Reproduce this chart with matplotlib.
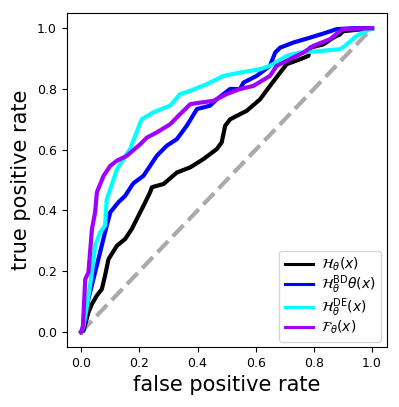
import matplotlib
matplotlib.use("Agg")
import matplotlib.pyplot as plt

# ROC curve points
h_fpr = [0.0, 0.008, 0.025, 0.037, 0.054, 0.071, 0.082, 0.094, 0.123, 0.151, 0.174, 0.197, 0.214, 0.237, 0.243, 0.248, 0.283, 0.329, 0.375, 0.42, 0.466, 0.483, 0.495, 0.512, 0.546, 0.569, 0.615, 0.649, 0.684, 0.707, 0.753, 0.781, 0.787, 0.833, 0.867, 0.89, 0.9, 1.0]
h_tpr = [0.0, 0.004, 0.065, 0.092, 0.12, 0.141, 0.185, 0.24, 0.284, 0.306, 0.339, 0.383, 0.415, 0.46, 0.476, 0.478, 0.487, 0.525, 0.542, 0.569, 0.602, 0.624, 0.679, 0.70, 0.717, 0.728, 0.766, 0.81, 0.854, 0.882, 0.898, 0.909, 0.936, 0.947, 0.969, 0.98, 0.99, 1.0]

bd_fpr = [0.0, 0.008, 0.025, 0.042, 0.065, 0.082, 0.10, 0.128, 0.151, 0.174, 0.18, 0.214, 0.26, 0.294, 0.329, 0.363, 0.398, 0.443, 0.466, 0.512, 0.546, 0.558, 0.603, 0.649, 0.667, 0.684, 0.73, 0.787, 0.844, 0.878, 0.936, 1.0]
bd_tpr = [0.0, 0.01, 0.109, 0.174, 0.262, 0.328, 0.394, 0.427, 0.448, 0.482, 0.49, 0.514, 0.58, 0.613, 0.635, 0.679, 0.734, 0.745, 0.766, 0.80, 0.80, 0.821, 0.843, 0.876, 0.92, 0.936, 0.953, 0.969, 0.986, 0.997, 1.0, 1.0]

de_fpr = [0.0, 0.008, 0.02, 0.037, 0.048, 0.065, 0.082, 0.088, 0.10, 0.123, 0.168, 0.208, 0.248, 0.306, 0.34, 0.375, 0.432, 0.489, 0.546, 0.615, 0.649, 0.707, 0.753, 0.821, 0.89, 0.907, 0.947, 1.0]
de_tpr = [0.0, 0.02, 0.087, 0.196, 0.284, 0.328, 0.35, 0.4375, 0.47, 0.536, 0.602, 0.70, 0.723, 0.745, 0.783, 0.794, 0.816, 0.843, 0.854, 0.865, 0.876, 0.909, 0.92, 0.925, 0.931, 0.942, 0.975, 1.0]

f_fpr = [0.0, 0.006, 0.014, 0.025, 0.037, 0.048, 0.054, 0.077, 0.10, 0.123, 0.157, 0.203, 0.226, 0.26, 0.306, 0.34, 0.375, 0.409, 0.455, 0.50, 0.546, 0.592, 0.649, 0.672, 0.718, 0.764, 0.798, 0.856, 0.884, 0.90, 1.0]
f_tpr = [0.0, 0.02, 0.174, 0.196, 0.339, 0.394, 0.46, 0.514, 0.547, 0.564, 0.58, 0.618, 0.64, 0.657, 0.684, 0.717, 0.75, 0.755, 0.761, 0.783, 0.80, 0.81, 0.843, 0.876, 0.898, 0.92, 0.942, 0.964, 0.986, 0.997, 1.0]

labels = [r'$\mathcal{H}_\theta(x)$', r'$\mathcal{H}^{\mathrm{BD}}_\theta\theta(x)$',
          r'$\mathcal{H}^{\mathrm{DE}}_\theta(x)$', r'$\mathcal{F}_\theta(x)$']
colors = ['black', '#0000ff', '#00ffff', '#a000ff']

fig = plt.figure(figsize=(3.99, 4.07), dpi=100)
ax = fig.add_axes([0.167, 0.147, 0.802, 0.821])

ax.plot([0, 1], [0, 1], linestyle='--', color='#aaaaaa', lw=3)
series = [(h_fpr, h_tpr), (bd_fpr, bd_tpr), (de_fpr, de_tpr), (f_fpr, f_tpr)]
for (fx, fy), lab, c in zip(series, labels, colors):
    ax.plot(fx, fy, color=c, lw=3, label=lab)

ax.set_xticks([0.0, 0.2, 0.4, 0.6, 0.8, 1.0])
ax.set_yticks([0.0, 0.2, 0.4, 0.6, 0.8, 1.0])
ax.tick_params(labelsize=9)
ax.set_xlabel('false positive rate', fontsize=15)
ax.set_ylabel('true positive rate', fontsize=15)
leg = ax.legend(loc='lower right', fontsize=10, labelspacing=0.0,
                handletextpad=0.6, borderaxespad=0.4)
for h in leg.legend_handles:
    h.set_linewidth(2.2)

fig.savefig('out.png', dpi=100)
